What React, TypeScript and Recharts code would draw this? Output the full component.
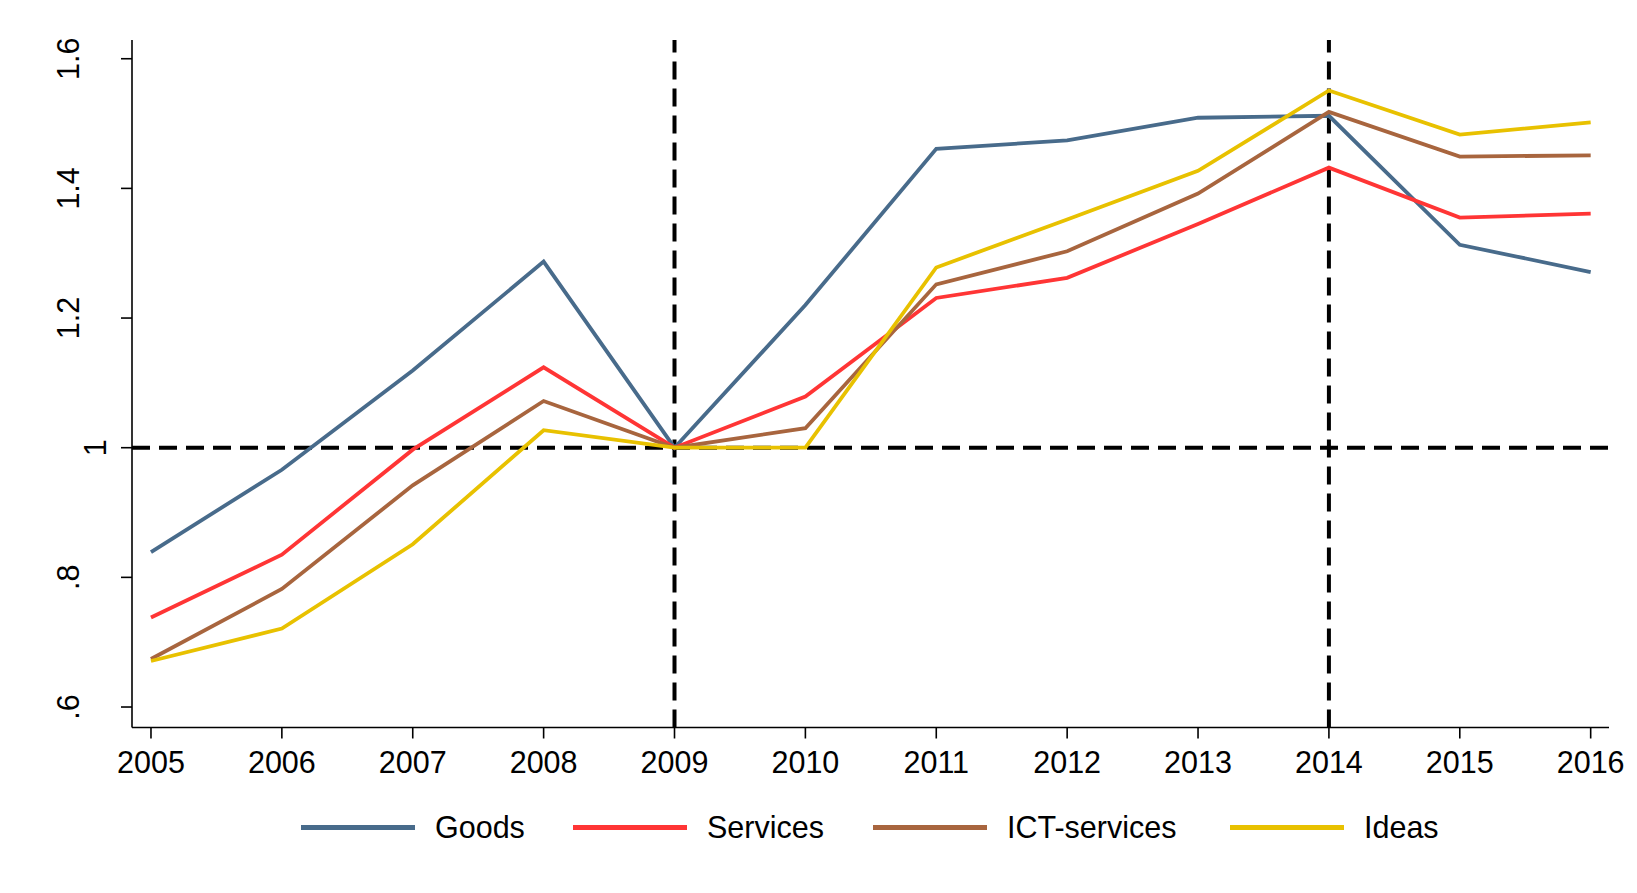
import { LineChart, Line, XAxis, YAxis, ReferenceLine } from "recharts";

const years = [2005, 2006, 2007, 2008, 2009, 2010, 2011, 2012, 2013, 2014, 2015, 2016];
const goods = [0.839, 0.966, 1.119, 1.287, 1.0, 1.22, 1.461, 1.474, 1.509, 1.512, 1.313, 1.271];
const services = [0.738, 0.835, 0.997, 1.124, 1.0, 1.079, 1.231, 1.262, 1.345, 1.432, 1.355, 1.361];
const ictServices = [0.674, 0.782, 0.942, 1.072, 1.0, 1.03, 1.252, 1.303, 1.392, 1.518, 1.449, 1.451];
const ideas = [0.671, 0.721, 0.851, 1.027, 1.0, 1.0, 1.278, 1.352, 1.427, 1.551, 1.483, 1.502];

const yTicks = [0.6, 0.8, 1, 1.2, 1.4, 1.6];
const yTickLabels = [".6", ".8", "1", "1.2", "1.4", "1.6"];
const eventYears = [2009, 2014];

const seriesNames = ["Goods", "Services", "ICT-services", "Ideas"];
const seriesKeys = ["goods", "services", "ict", "ideas"];
const seriesColors = ["#486b8b", "#ff3535", "#a8653e", "#e8c100"];

const data = years.map((year, i) => ({
  year,
  goods: goods[i],
  services: services[i],
  ict: ictServices[i],
  ideas: ideas[i],
}));

const FONT = "'Liberation Sans', Arial, Helvetica, sans-serif";
const FS = 30.5;
const W = 1620;
const H = 877;
const legendX = [293, 565, 865, 1222];
const legendY = 819;

function YTick(props: any) {
  const { y, payload } = props;
  const idx = yTicks.indexOf(payload.value);
  const label = idx >= 0 ? yTickLabels[idx] : String(payload.value);
  // the lone "1" sits closer to the axis than the others in the original
  const bx = label === "1" ? 98 : 71;
  return (
    <text
      x={bx}
      y={y}
      transform={`rotate(-90, ${bx}, ${y})`}
      textAnchor="middle"
      fontSize={FS}
      fontFamily={FONT}
      fill="#000"
    >
      {label}
    </text>
  );
}

export default function App() {
  return (
    <div style={{ position: "relative", width: W, height: H, fontFamily: FONT }}>
      <LineChart
        width={W}
        height={H}
        data={data}
        margin={{ top: 32, right: 19, left: 0, bottom: 97.5 }}
      >
        <XAxis
          dataKey="year"
          type="number"
          domain={[2004.855, 2016.14]}
          ticks={years}
          interval={0}
          tickSize={11}
          tickMargin={13}
          height={60}
          axisLine={{ stroke: "#000", strokeWidth: 1.6 }}
          tickLine={{ stroke: "#000", strokeWidth: 1.6 }}
          tick={{ fill: "#000", fontSize: FS, fontFamily: FONT }}
        />
        <YAxis
          type="number"
          domain={[0.5684, 1.6289]}
          ticks={yTicks}
          interval={0}
          width={124}
          tickSize={11}
          axisLine={{ stroke: "#000", strokeWidth: 1.6 }}
          tickLine={{ stroke: "#000", strokeWidth: 1.6 }}
          tick={<YTick />}
        />
        <ReferenceLine y={1} stroke="#000" strokeWidth={4} strokeDasharray="18 9" />
        {eventYears.map((yr) => (
          <ReferenceLine key={yr} x={yr} stroke="#000" strokeWidth={4} strokeDasharray="18 9" />
        ))}
        {seriesKeys.map((k, i) => (
          <Line
            key={k}
            dataKey={k}
            stroke={seriesColors[i]}
            strokeWidth={3.8}
            dot={false}
            activeDot={false}
            isAnimationActive={false}
            strokeLinejoin="miter"
          />
        ))}
      </LineChart>
      {seriesNames.map((name, i) => (
        <div
          key={name}
          style={{
            position: "absolute",
            left: legendX[i],
            top: legendY - 17,
            height: 34,
            display: "flex",
            alignItems: "center",
            whiteSpace: "nowrap",
          }}
        >
          <span
            style={{
              display: "inline-block",
              width: 114,
              height: 5,
              background: seriesColors[i],
              marginRight: 20,
            }}
          />
          <span style={{ fontSize: FS, color: "#000", lineHeight: "34px" }}>{name}</span>
        </div>
      ))}
    </div>
  );
}
